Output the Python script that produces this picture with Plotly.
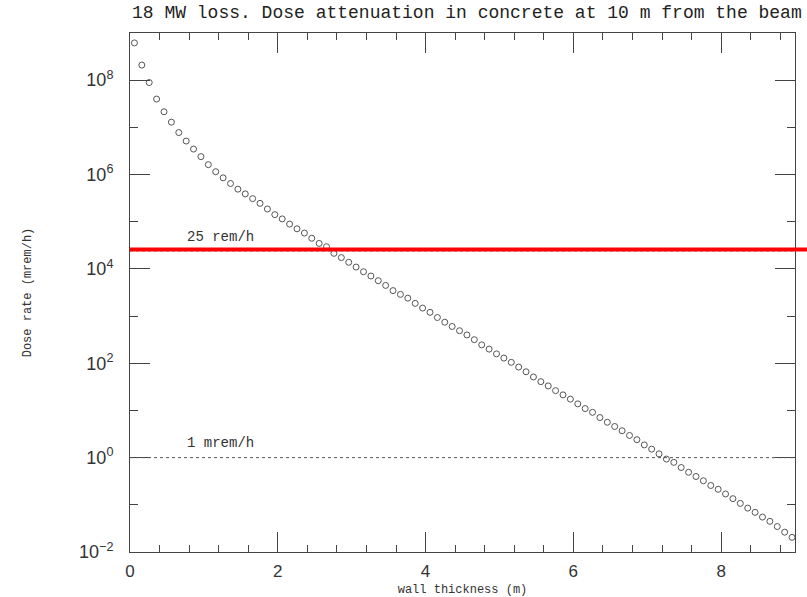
import plotly.graph_objects as go

# wall thickness (m)
thickness = [0.06, 0.16, 0.26, 0.36, 0.46, 0.56, 0.66, 0.76, 0.86, 0.96,
             1.06, 1.16, 1.26, 1.36, 1.46, 1.56, 1.66, 1.76, 1.86, 1.96,
             2.06, 2.16, 2.26, 2.36, 2.46, 2.56, 2.66, 2.76, 2.86, 2.96,
             3.06, 3.16, 3.26, 3.36, 3.46, 3.56, 3.66, 3.76, 3.86, 3.96,
             4.06, 4.16, 4.26, 4.36, 4.46, 4.56, 4.66, 4.76, 4.86, 4.96,
             5.06, 5.16, 5.26, 5.36, 5.46, 5.56, 5.66, 5.76, 5.86, 5.96,
             6.06, 6.16, 6.26, 6.36, 6.46, 6.56, 6.66, 6.76, 6.86, 6.96,
             7.06, 7.16, 7.26, 7.36, 7.46, 7.56, 7.66, 7.76, 7.86, 7.96,
             8.06, 8.16, 8.26, 8.36, 8.46, 8.56, 8.66, 8.76, 8.86, 8.96]

# log10 of dose rate (mrem/h)
log10_dose = [8.79, 8.32, 7.95, 7.60, 7.33, 7.11, 6.89, 6.71, 6.54, 6.38,
              6.21, 6.06, 5.93, 5.81, 5.69, 5.59, 5.49, 5.39, 5.27, 5.15,
              5.06, 4.95, 4.85, 4.76, 4.65, 4.54, 4.47, 4.33, 4.24, 4.14,
              4.04, 3.94, 3.85, 3.75, 3.65, 3.54, 3.46, 3.38, 3.27, 3.17,
              3.08, 2.97, 2.87, 2.78, 2.69, 2.60, 2.50, 2.39, 2.30, 2.20,
              2.11, 2.02, 1.92, 1.82, 1.71, 1.61, 1.52, 1.42, 1.33, 1.24,
              1.14, 1.04, 0.96, 0.85, 0.75, 0.66, 0.57, 0.47, 0.38, 0.27,
              0.18, 0.08, -0.03, -0.10, -0.21, -0.31, -0.40, -0.49, -0.59, -0.67,
              -0.77, -0.87, -0.97, -1.07, -1.16, -1.26, -1.35, -1.46, -1.58, -1.69]
dose = [10 ** v for v in log10_dose]

# reference levels (mrem/h)
limit_high = 25000.0   # 25 rem/h
limit_low = 1.0        # 1 mrem/h
limit_high_label = "25 rem/h"
limit_low_label = "1 mrem/h"

x_tickvals = [0, 2, 4, 6, 8]
y_exponents = [-2, 0, 2, 4, 6, 8]
y_minor_exponents = [-1, 1, 3, 5, 7]

title_text = "18 MW loss. Dose attenuation in concrete at 10 m from the beam"
x_title = "wall thickness (m)"
y_title = "Dose rate (mrem/h)"

mono = "Liberation Mono, DejaVu Sans Mono, monospace"
sans = "Liberation Sans, Arial, sans-serif"

fig = go.Figure()
fig.add_trace(go.Scatter(
    x=thickness, y=dose, mode="markers",
    marker=dict(symbol="circle-open", size=6, color="#555555",
                line=dict(width=1, color="#555555")),
    showlegend=False, hoverinfo="x+y"))

# 25 rem/h: thin dotted guide plus thick red line
fig.add_shape(type="line", xref="paper", x0=0, x1=1, yref="y",
              y0=limit_high * 0.96, y1=limit_high * 0.96,
              line=dict(color="#888888", width=1, dash="dot"), layer="below")
fig.add_shape(type="line", xref="paper", x0=0, x1=1.018, yref="y",
              y0=limit_high * 1.03, y1=limit_high * 1.03,
              line=dict(color="#ff0000", width=4))
# 1 mrem/h dotted line
fig.add_shape(type="line", xref="paper", x0=0, x1=1, yref="y",
              y0=limit_low, y1=limit_low,
              line=dict(color="#555555", width=1, dash="dot"))

fig.add_annotation(x=0.74, y=4.4, xref="x", yref="y", text=limit_high_label,
                   showarrow=False, xanchor="left", yanchor="bottom", yshift=3,
                   font=dict(family=mono, size=14, color="#333333"))
fig.add_annotation(x=0.74, y=0, xref="x", yref="y", text=limit_low_label,
                   showarrow=False, xanchor="left", yanchor="bottom", yshift=5,
                   font=dict(family=mono, size=14, color="#333333"))

fig.add_annotation(x=0, y=1, xref="paper", yref="paper", yshift=8,
                   text=title_text, showarrow=False, xanchor="left",
                   yanchor="bottom",
                   font=dict(family=mono, size=18, color="#222222"))

fig.update_layout(
    width=807, height=597,
    margin=dict(l=130, r=12, t=33, b=45, autoexpand=False),
    paper_bgcolor="white", plot_bgcolor="white",
    xaxis=dict(
        range=[0, 9], tickvals=x_tickvals, ticks="inside", ticklen=20,
        tickcolor="#444444", tickwidth=1, automargin=False,
        showline=True, linecolor="#444444", linewidth=1, mirror="allticks",
        showgrid=False, zeroline=False, ticklabelstandoff=4,
        tickfont=dict(family=sans, size=17, color="#333333"),
        minor=dict(dtick=0.4, tick0=0, ticks="inside", ticklen=7,
                   tickcolor="#444444", showgrid=False),
        title=dict(text=x_title, standoff=8,
                   font=dict(family=mono, size=12, color="#333333")),
    ),
    yaxis=dict(
        type="log", range=[-2, 9], automargin=False,
        tickvals=[10 ** e for e in y_exponents],
        ticktext=["10<sup>%d</sup>" % e if e >= 0 else "10<sup>\u2212%d</sup>" % -e
                  for e in y_exponents],
        ticks="inside", ticklen=20, tickcolor="#444444", tickwidth=1,
        showline=True, linecolor="#444444", linewidth=1, mirror="allticks",
        showgrid=False, zeroline=False, ticklabelstandoff=12,
        tickfont=dict(family=sans, size=18, color="#333333"),
        minor=dict(tickvals=[10 ** e for e in y_minor_exponents],
                   ticks="inside", ticklen=8, tickcolor="#444444",
                   showgrid=False),
        title=dict(text=y_title, standoff=44,
                   font=dict(family=mono, size=12, color="#333333")),
    ),
)

fig.write_html("out.html")
